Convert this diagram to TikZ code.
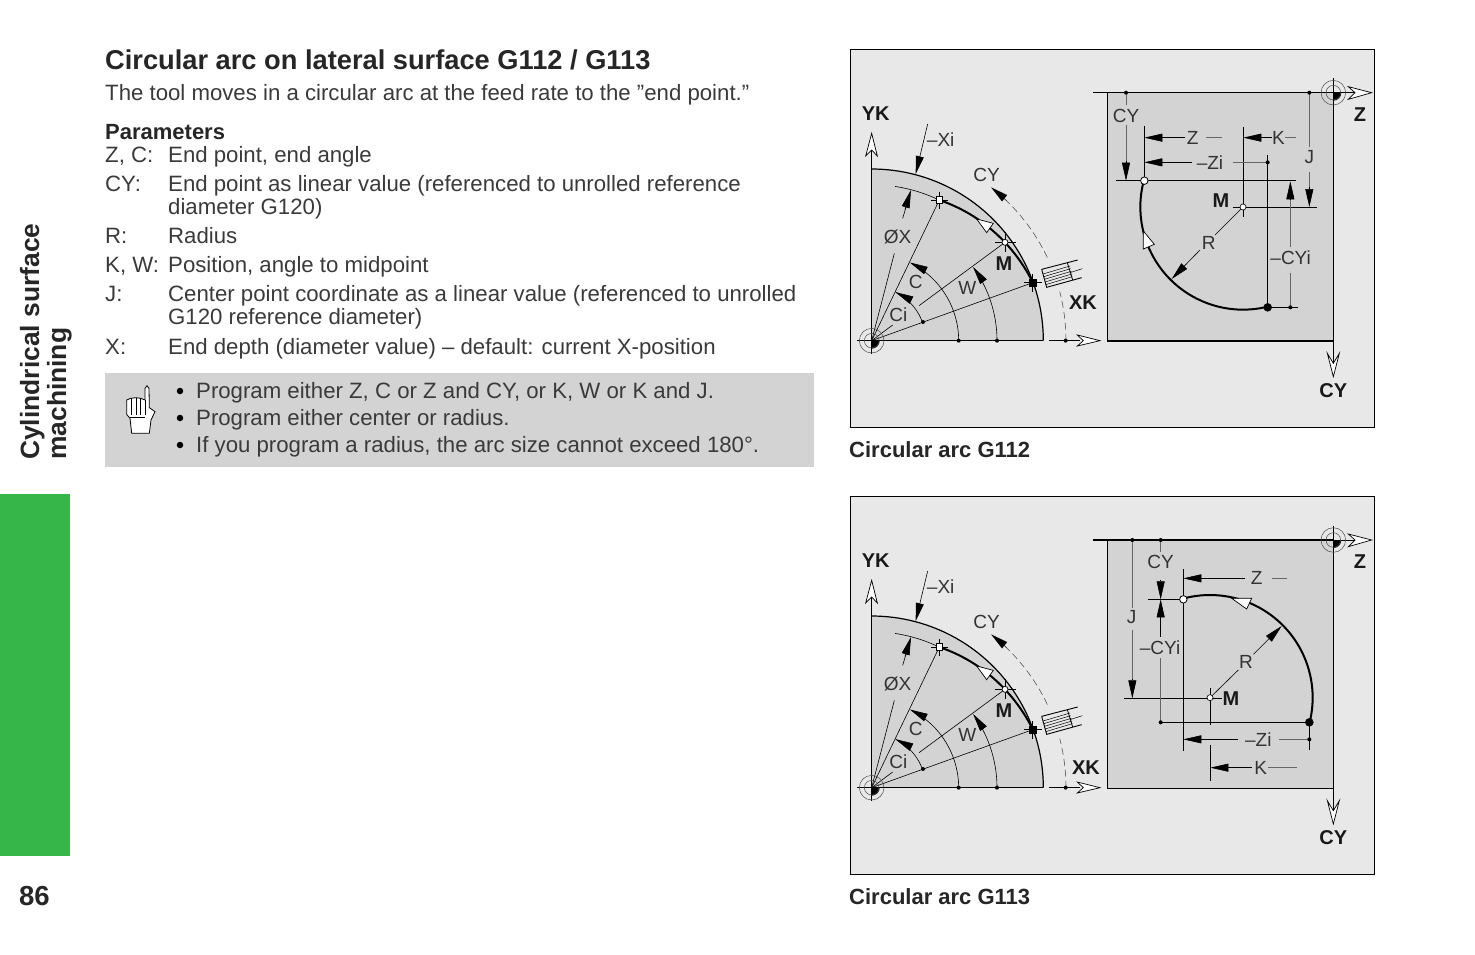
\documentclass[tikz,border=0pt]{standalone}
\usepackage{fontspec}
\setmainfont{Liberation Sans}
\usetikzlibrary{arrows.meta}
\definecolor{panelbg}{HTML}{E8E8E8}
\definecolor{graybox}{HTML}{D3D3D3}
\definecolor{pagegreen}{HTML}{36B649}
\definecolor{bodyc}{HTML}{3A3A3A}
\newcommand\arcpts[5]{plot[domain=#4:#5,samples=50] ({#1+#3*cos(\x)},{#2-#3*sin(\x)})}
\tikzset{
  body/.style={anchor=base west,inner sep=0pt,text=bodyc,font=\fontsize{22.2}{22}\selectfont},
  boldt/.style={anchor=base west,inner sep=0pt,text=black!85,font=\fontsize{22}{22}\selectfont\bfseries},
  lab/.style={inner sep=0pt,text=black!80,font=\fontsize{19}{19}\selectfont},
  blab/.style={inner sep=0pt,text=black!90,font=\fontsize{20}{20}\selectfont\bfseries},
  thin line/.style={draw=black,line width=.6pt},
  gray line/.style={draw=black!60,line width=.6pt},
  axis line/.style={draw=black,line width=1.1pt},
  heavy/.style={draw=black,line width=2pt},
  dim/.style={draw=black,line width=.6pt,-{Triangle[length=18pt,width=8pt]}},
  holl/.style={draw=black,line width=.7pt,fill=white},
  ptdot/.style={circle,fill=black,inner sep=0pt,minimum size=4pt},
  zoomed/.style={x=.33333pt,y=-.33333pt},
}
\newcommand\origin[2]{%
  \fill[black] (#1,#2) -- (#1+24,#2) arc[start angle=0,end angle=-90,radius=8pt] -- cycle;
  \draw[draw=black!70,line width=.5pt] (#1,#2) circle[radius=12.3pt] (#1,#2) circle[radius=7.3pt];
}
\newcommand\leftpart[1]{%
\begin{scope}[xshift=850pt,yshift=-#1pt,zoomed]
  \fill[graybox] (65,872) -- plot[domain=0:90,samples=50] ({65+515*cos(\x)},{872-515*sin(\x)}) -- cycle;
  \draw[axis line,line width=1.2pt] \arcpts{65}{872}{515}{0}{90};
  \draw[thin line] (65,872) -- (268,450);
  \draw[thin line] (65,872) -- (128,825) (207,767) -- (465,577);
  \draw[thin line] (65,872) -- (548,698);
  \draw[thin line] (65,872) -- (133,610) (158,505) -- (170,465);
  \draw[thin line] \arcpts{65}{872}{468}{64.3}{81.4};
  \draw[dim] (165,478) -- (183,420);
  \draw[dim] (233,222) -- (197,372);
  \draw[dim] \arcpts{65}{872}{261}{0}{64};
  \draw[dim] \arcpts{65}{872}{376}{0}{36};
  \draw[dim] \arcpts{65}{872}{162}{20}{64};
  \draw[draw=black!70,line width=.55pt,dash pattern=on 7pt off 4pt] \arcpts{65}{872}{583}{25.3}{47};
  \draw[draw=black!70,line width=.55pt,dash pattern=on 7pt off 4pt] \arcpts{65}{872}{583}{0}{14.6};
  \draw[draw=black,line width=.1pt,-{Triangle[length=17pt,width=8pt]}] \arcpts{65}{872}{583}{46}{52};
  \draw[heavy] plot[domain=64.3:19.8,samples=60] ({65+(468+(64.3-\x)*1.034)*cos(\x)},{872-(468+(64.3-\x)*1.034)*sin(\x)});
  \draw[holl] (380,507) -- (430,520) -- (410,548) -- cycle;
  \draw[axis line] (22,872) -- (580,872);
  \draw[thin line] (65,912) -- (65,300);
  \draw[thin line] (597,872) -- (690,872);
  \draw[holl] (65,250) -- (82,318) -- (65,300) -- (47,318) -- cycle;
  \draw[holl] (750,872) -- (682,888) -- (700,872) -- (682,855) -- cycle;
  \origin{65}{872}
  \draw[thin line] (243,450) -- (295,450) (268,425) -- (268,478);
  \draw[holl] (258,440) rectangle (278,460);
  \draw[thin line,line width=.8pt] (435,577) -- (497,577) (465,545) -- (465,607);
  \draw[holl] (465,577) circle[radius=3pt];
  \draw[thin line,line width=.8pt] (522,698) -- (577,698) (548,672) -- (548,725);
  \fill[black] (536,686) rectangle (560,710);
  \node[ptdot] (da) at (326,872) {};
  \node[ptdot] (db) at (441,872) {};
  \node[ptdot] (dc) at (647,872) {};
  \node[ptdot] (dd) at (219,816) {};
  \draw[line width=.9pt,fill=panelbg] (575,658) -- (590,712) -- (695,683) (575,658) -- (683,630);
  \draw[line width=.8pt] (652,638) -- (668,690);
  \draw[line width=.5pt] (579,672) -- (660,648) (581,680) -- (662,656) (583,688) -- (664,664) (585,696) -- (666,672) (587,704) -- (667,680) (660,668) -- (697,656);
  \node[blab] (yk) at (77,190) {YK};
  \node[lab] (xi) at (272,270) {–Xi};
  \node[lab] (cyl) at (410,375) {CY};
  \node[lab] (ox) at (143,560) {ØX};
  \node[blab] (ml) at (462,640) {M};
  \node[lab] (cc) at (197,697) {C};
  \node[lab] (ww) at (352,713) {W};
  \node[lab] (ci) at (145,793) {Ci};
\end{scope}}
\newcommand\rightframe[2]{%
  \fill[graybox] (52,#2) rectangle (730,#2+745);
  \draw[axis line] (52,#2) rectangle (730,#2+745);
  \draw[axis line] (10,#2) -- (730,#2);
  \draw[thin line] (730,#2) -- (795,#2);
  \draw[thin line] (730,#2-43) -- (730,#2);
  \draw[thin line] (690,#2) -- (730,#2);
  \draw[holl] (845,#2) -- (775,#2+20) -- (795,#2) -- (775,#2-18) -- cycle;
  \origin{730}{#2}
  \draw[thin line] (730,#2+745) -- (730,#2+802);
  \draw[holl] (730,#2+852) -- (712,#2+782) -- (730,#2+812) -- (748,#2+782) -- cycle;
  \draw[thin line] (730,#2+782) -- (730,#2+812);
  \node[blab] (zax#2) at (810,#2+65) {Z};
  \node[blab] (cyax#2) at (730,#2+894) {CY};
}
\begin{document}
\begin{tikzpicture}[x=1pt,y=-1pt]
\useasboundingbox (0,0) rectangle (1475,954);
\fill[white] (0,0) rectangle (1475,954);
\fill[pagegreen] (0,494) rectangle (70,856);
\node[rotate=90,anchor=south west,inner sep=0pt,align=left,text=black!85,font=\fontsize{26.4}{27}\selectfont\bfseries] (side) at (72,460) {Cylindrical surface\\machining};
\node[anchor=base west,inner sep=0pt,text=black!85,font=\fontsize{27.5}{27}\selectfont\bfseries] (page) at (19,905) {86};
\node[anchor=base west,inner sep=0pt,text=black!85,font=\fontsize{27.25}{27}\selectfont\bfseries] (title) at (105,69) {Circular arc on lateral surface G112 / G113};
\node[body] (t0) at (105,100) {The tool moves in a circular arc at the feed rate to the ”end point.”};
\node[boldt] (t1) at (105,139) {Parameters};
\node[body] (a1) at (105,162) {Z, C:};
\node[body] (b1) at (168,162) {End point, end angle};
\node[body] (a2) at (105,191) {CY:};
\node[body] (b2) at (168,191) {End point as linear value (referenced to unrolled reference};
\node[body] (b2x) at (168,214) {diameter G120)};
\node[body] (a3) at (105,243) {R:};
\node[body] (b3) at (168,243) {Radius};
\node[body] (a4) at (105,272) {K, W:};
\node[body] (b4) at (168,272) {Position, angle to midpoint};
\node[body] (a5) at (105,301) {J:};
\node[body] (b5) at (168,301) {Center point coordinate as a linear value (referenced to unrolled};
\node[body] (b5x) at (168,324) {G120 reference diameter)};
\node[body] (a6) at (105,354) {X:};
\node[body] (b6) at (168,354) {End depth (diameter value) – default: current X-position};
\fill[graybox] (105,373) rectangle (814,467);
\begin{scope}[xshift=100pt,yshift=-365pt,zoomed]
  \draw[line width=.8pt,fill=white] (95,205) -- (90,160) -- (80,148) -- (80,105) -- (92,100) -- (108,98) -- (122,100) -- (135,105) -- (135,70) -- (141,62) -- (147,70) -- (148,128) -- (165,140) -- (153,165) -- (148,205) -- cycle;
  \draw[line width=.7pt] (93,100) -- (93,150) (108,98) -- (108,150) (122,100) -- (122,150) (135,105) -- (135,150) (90,158) -- (135,158);
\end{scope}
\node[ptdot,minimum size=6.5pt] (bu1) at (180,391) {};
\node[ptdot,minimum size=6.5pt] (bu2) at (180,418) {};
\node[ptdot,minimum size=6.5pt] (bu3) at (180,445) {};
\node[body] (n1) at (196,398) {Program either Z, C or Z and CY, or K, W or K and J.};
\node[body] (n2) at (196,425) {Program either center or radius.};
\node[body] (n3) at (196,452) {If you program a radius, the arc size cannot exceed 180°.};
\draw[fill=panelbg,line width=1pt] (850.5,49.5) rectangle (1374.5,427);
\draw[fill=panelbg,line width=1pt] (850.5,496.5) rectangle (1374.5,874);
\node[boldt] (cap1) at (849,457) {Circular arc G112};
\node[boldt] (cap2) at (849,904) {Circular arc G113};
\leftpart{50}
\leftpart{497}
\node[blab] (xk1) at (1083,303) {XK};
\node[blab] (xk2) at (1086,768) {XK};
\begin{scope}[xshift=1090pt,yshift=-70pt,zoomed]
  \rightframe{70}{68}
  \draw[thin line,line width=.7pt] (78,332) -- (618,332);
  \draw[thin line] (430,411) -- (680,411);
  \draw[thin line] (163,168) -- (163,332);
  \draw[thin line] (460,170) -- (460,440);
  \draw[thin line] (533,255) -- (533,712) -- (623,712);
  \draw[gray line] (108,68) -- (108,105) (108,165) -- (108,275);
  \draw[dim] (108,272) -- (108,332);
  \draw[dim] (285,203) -- (163,203);
  \draw[gray line] (348,203) -- (395,203);
  \draw[dim] (305,277) -- (163,277);
  \draw[gray line] (430,277) -- (533,277);
  \draw[dim] (545,203) -- (460,203);
  \draw[gray line] (585,203) -- (617,203);
  \draw[gray line] (658,68) -- (658,230) (658,305) -- (658,360);
  \draw[dim] (658,350) -- (658,411);
  \draw[dim] (601,395) -- (601,334);
  \draw[gray line] (601,390) -- (601,530) (601,608) -- (601,712);
  \draw[thin line] (459,411) -- (375,495);
  \draw[dim] (330,540) -- (245,627);
  \draw[heavy] \arcpts{459}{411}{308}{165}{284};
  \draw[holl] (160,483) -- (193,523) -- (160,537) -- cycle;
  \node[ptdot] (p1) at (108,68) {};
  \node[ptdot] (p2) at (658,68) {};
  \node[ptdot] (p3) at (533,277) {};
  \node[ptdot] (p4) at (601,712) {};
  \node[circle,draw,fill=black,inner sep=0pt,minimum size=8pt] (endp) at (533,712) {};
  \node[circle,draw=black,line width=.8pt,fill=white,inner sep=0pt,minimum size=7.5pt] (startp) at (163,332) {};
  \node[circle,draw=black,line width=.6pt,fill=white,inner sep=0pt,minimum size=6pt] (cen) at (459,411) {};
  \node[lab] (l1) at (108,138) {CY};
  \node[lab] (l2) at (308,203) {Z};
  \node[lab] (l3) at (360,277) {–Zi};
  \node[lab] (l4) at (565,203) {K};
  \node[lab] (l5) at (658,262) {J};
  \node[blab] (l6) at (393,393) {M};
  \node[lab] (l7) at (356,518) {R};
  \node[lab] (l8) at (602,563) {–CYi};
\end{scope}
\begin{scope}[xshift=1090pt,yshift=-520pt,zoomed]
  \rightframe{520}{60}
  \draw[gray line] (127,60) -- (127,265) (127,330) -- (127,480);
  \draw[dim] (127,478) -- (127,535);
  \draw[thin line] (102,535) -- (395,535);
  \draw[gray line] (212,60) -- (212,95) (212,415) -- (212,607);
  \draw[dim] (212,180) -- (212,238);
  \draw[dim] (212,350) -- (212,238);
  \draw[thin line] (175,238) -- (280,238);
  \draw[thin line] (212,607) -- (658,607);
  \draw[thin line] (280,148) -- (280,692);
  \draw[dim] (465,175) -- (280,175);
  \draw[gray line] (545,175) -- (590,175);
  \draw[dim] (445,658) -- (280,658);
  \draw[gray line] (567,658) -- (658,658);
  \draw[thin line] (658,607) -- (658,690);
  \draw[dim] (485,743) -- (361,743);
  \draw[gray line] (535,743) -- (620,743);
  \draw[thin line] (361,505) -- (361,615) (361,675) -- (361,782);
  \draw[thin line] (360,533) -- (445,450);
  \draw[dim] (490,403) -- (575,318);
  \draw[heavy] \arcpts{360}{533}{308}{105}{-14};
  \draw[holl] (425,235) -- (485,235) -- (470,267) -- cycle;
  \draw[thin line,line width=.9pt] (328,535) -- (395,535) (360,505) -- (360,562);
  \node[ptdot] (q1) at (127,60) {};
  \node[ptdot] (q2) at (212,60) {};
  \node[ptdot] (q3) at (212,607) {};
  \node[ptdot] (q4) at (658,658) {};
  \node[circle,draw,fill=black,inner sep=0pt,minimum size=8pt] (endq) at (658,607) {};
  \node[circle,draw=black,line width=.8pt,fill=white,inner sep=0pt,minimum size=7.5pt] (startq) at (280,238) {};
  \node[circle,draw=black,line width=.6pt,fill=white,inner sep=0pt,minimum size=6pt] (cenq) at (360,533) {};
  \node[lab] (m1) at (212,125) {CY};
  \node[lab] (m2) at (500,175) {Z};
  \node[lab] (m3) at (125,290) {J};
  \node[lab] (m4) at (210,382) {–CYi};
  \node[lab] (m5) at (468,425) {R};
  \node[blab] (m6) at (423,535) {M};
  \node[lab] (m7) at (505,658) {–Zi};
  \node[lab] (m8) at (512,743) {K};
\end{scope}
\end{tikzpicture}
\end{document}
